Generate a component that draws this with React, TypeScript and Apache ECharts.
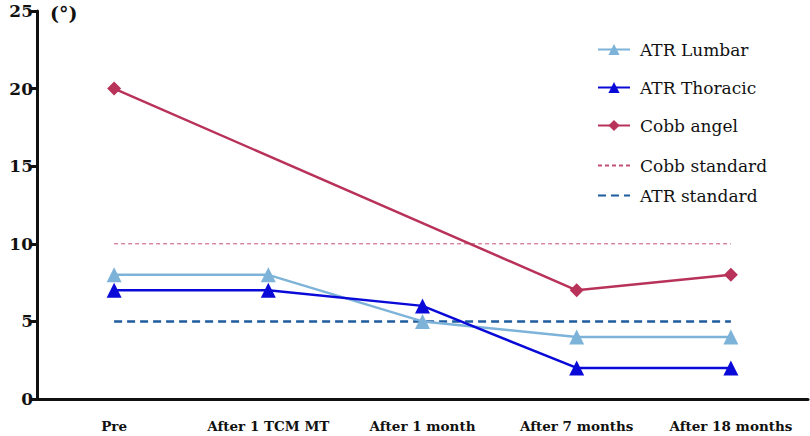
import React, { useEffect, useRef } from "react";
import * as echarts from "echarts";

const categories = ["Pre", "After 1 TCM MT", "After 1 month", "After 7 months", "After 18 months"];
const atrLumbar = [8, 8, 5, 4, 4];
const atrThoracic = [7, 7, 6, 2, 2];
const cobbAngle: (number | null)[] = [20, null, null, 7, 8];
const cobbStandard = [10, 10, 10, 10, 10];
const atrStandard = [5, 5, 5, 5, 5];
const yTicks = { min: 0, max: 25, interval: 5 };

const FONT = "DejaVu Serif";

export default function App() {
  const ref = useRef<HTMLDivElement>(null);
  useEffect(() => {
    if (!ref.current) return;
    const chart = echarts.init(ref.current, undefined, { renderer: "svg" });
    const legendText = { fontFamily: FONT, fontSize: 17, color: "#111", padding: [0, 0, 0, 5] };
    chart.setOption({
      animation: false,
      textStyle: { fontFamily: FONT },
      grid: { left: 37, right: 2, top: 11, bottom: 37 },
      legend: [
        {
          orient: "vertical",
          left: 592,
          top: 36,
          itemWidth: 32,
          itemHeight: 14,
          itemGap: 21,
          textStyle: legendText,
          data: ["ATR Lumbar", "ATR Thoracic", "Cobb angel"],
        },
        {
          orient: "vertical",
          left: 592,
          top: 152,
          itemWidth: 32,
          itemHeight: 14,
          itemGap: 13,
          textStyle: legendText,
          data: [
            { name: "Cobb standard", itemStyle: { opacity: 0 } },
            { name: "ATR standard", itemStyle: { opacity: 0 } },
          ],
        },
      ],
      graphic: [
        {
          type: "text",
          left: 50,
          top: 3,
          style: { text: "(°)", fontFamily: FONT, fontSize: 19, fontWeight: "bold", fill: "#111" },
        },
      ],
      xAxis: {
        type: "category",
        data: categories,
        boundaryGap: true,
        axisLine: { lineStyle: { color: "#111", width: 3 } },
        axisTick: { alignWithLabel: true, length: 9, lineStyle: { color: "#111", width: 3 } },
        axisLabel: {
          interval: 0,
          margin: 20,
          fontFamily: FONT,
          fontSize: 13.5,
          fontWeight: "bold",
          color: "#111",
        },
      },
      yAxis: {
        type: "value",
        min: yTicks.min,
        max: yTicks.max,
        interval: yTicks.interval,
        splitLine: { show: false },
        axisLine: { show: true, lineStyle: { color: "#111", width: 3 } },
        axisTick: { show: true, length: 7, lineStyle: { color: "#111", width: 3 } },
        axisLabel: {
          margin: 4,
          fontFamily: FONT,
          fontSize: 17,
          fontWeight: "bold",
          color: "#111",
        },
      },
      series: [
        {
          name: "ATR Lumbar",
          type: "line",
          data: atrLumbar,
          symbol: "triangle",
          symbolSize: 15,
          color: "#7db3d9",
          lineStyle: { width: 2.5, color: "#7db3d9" },
          itemStyle: { color: "#7db3d9" },
          z: 3,
        },
        {
          name: "ATR Thoracic",
          type: "line",
          data: atrThoracic,
          symbol: "triangle",
          symbolSize: 15,
          color: "#0a0ad8",
          lineStyle: { width: 2.5, color: "#0a0ad8" },
          itemStyle: { color: "#0a0ad8" },
          z: 4,
        },
        {
          name: "Cobb angel",
          type: "line",
          data: cobbAngle,
          connectNulls: true,
          symbol: "diamond",
          symbolSize: 14,
          color: "#b8325a",
          lineStyle: { width: 2.5, color: "#b8325a" },
          itemStyle: { color: "#b8325a" },
          z: 5,
        },
        {
          name: "Cobb standard",
          type: "line",
          data: cobbStandard,
          symbol: "none",
          color: "#c4507a",
          lineStyle: { width: 1, type: [4, 3], color: "#c4507a" },
          z: 2,
        },
        {
          name: "ATR standard",
          type: "line",
          data: atrStandard,
          symbol: "none",
          color: "#1f5c9e",
          lineStyle: { width: 2.5, type: [8, 5], color: "#1f5c9e" },
          z: 2,
        },
      ],
    });
    return () => chart.dispose();
  }, []);
  return (
    <div
      ref={ref}
      style={{ position: "absolute", left: 0, top: 0, width: 810, height: 436 }}
    />
  );
}
